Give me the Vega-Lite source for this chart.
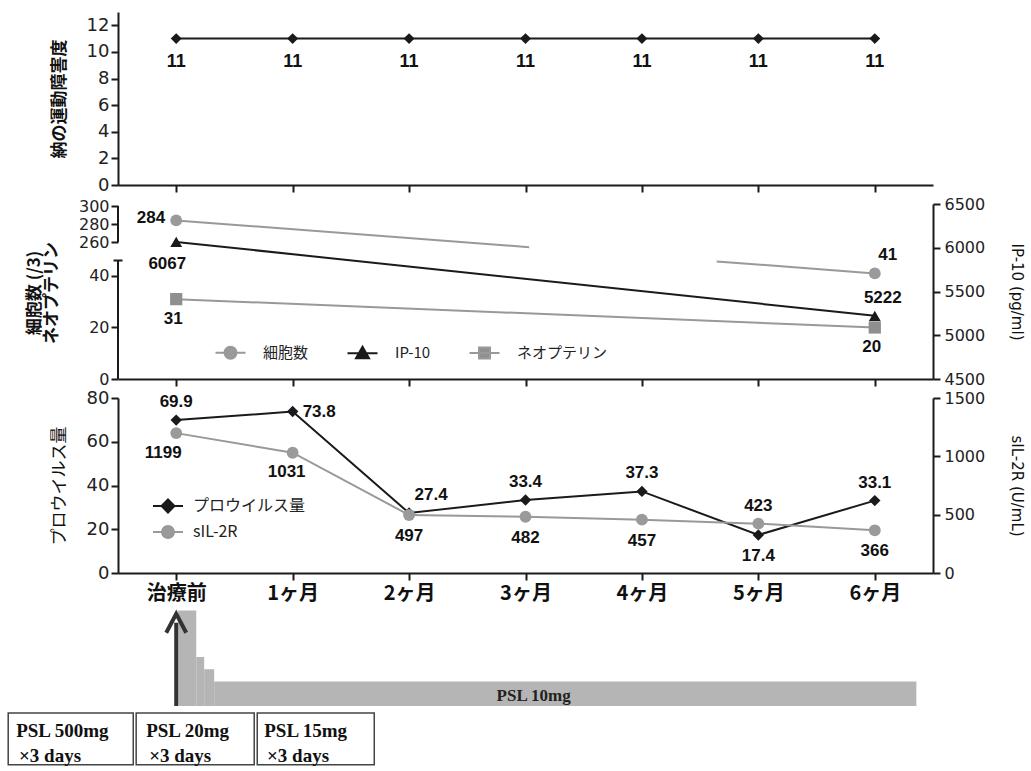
{
  "$schema": "https://vega.github.io/schema/vega-lite/v6.json",
  "background": "white",
  "padding": {"left": 7, "top": 12, "right": 2, "bottom": 0},
  "spacing": 2,
  "resolve": {"scale": {"fill": "independent", "stroke": "independent", "shape": "independent"}, "legend": {"fill": "independent", "stroke": "independent", "shape": "independent"}},
  "datasets": {
    "motor": [{"m":0,"v":11},{"m":1,"v":11},{"m":2,"v":11},{"m":3,"v":11},{"m":4,"v":11},{"m":5,"v":11},{"m":6,"v":11}],
    "cells": [{"m":0,"v":284},{"m":6,"v":41}],
    "ip10": [{"m":0,"v":6067},{"m":6,"v":5222}],
    "neo": [{"m":0,"v":31},{"m":6,"v":20}],
    "prov": [{"m":0,"v":69.9},{"m":1,"v":73.8},{"m":2,"v":27.4},{"m":3,"v":33.4},{"m":4,"v":37.3},{"m":5,"v":17.4},{"m":6,"v":33.1}],
    "sil": [{"m":0,"v":1199},{"m":1,"v":1031},{"m":2,"v":497},{"m":3,"v":482},{"m":4,"v":457},{"m":5,"v":423},{"m":6,"v":366}],
    "axisseg": [{"m":-0.5,"v":0,"hi":46},{"m":-0.5,"v":260,"hi":300}],
    "axiscap": [{"m":-0.5,"v":46}],
    "leg": [{"s":"none"}],
    "dose": [{"m":0.017,"m2":0.172,"v":39},{"m":0.172,"m2":0.24,"v":20},{"m":0.24,"m2":0.326,"v":15},{"m":0.326,"m2":6.357,"v":10}],
    "arrow": [{"m":0,"v":0,"hi":34}],
    "arrowhead": [{"m":0,"v":34}],
    "psl10": [{"m":3.07,"v":4.1,"t":"PSL 10mg"}],
    "boxes": [{"m":-1.443,"m2":-0.369,"v":-2.9,"v2":-24},{"m":-0.344,"m2":0.67,"v":-2.9,"v2":-24},{"m":0.696,"m2":1.701,"v":-2.9,"v2":-24}],
    "boxtext": [{"m":-1.375,"v":-10.2,"t":"PSL 500mg"},{"m":-1.35,"v":-20.4,"t":"×3 days"},{"m":-0.258,"v":-10.2,"t":"PSL 20mg"},{"m":-0.232,"v":-20.4,"t":"×3 days"},{"m":0.756,"v":-10.2,"t":"PSL 15mg"},{"m":0.78,"v":-20.4,"t":"×3 days"}]
  },
  "vconcat": [
    {
      "width": 815,
      "height": 173,
      "data": {"name": "motor"},
      "encoding": {
        "x": {"field":"m","type":"quantitative","title":null,"scale":{"domain":[-0.5,6.5],"nice":false,"zero":false},"axis":{"values":[0,1,2,3,4,5,6],"labels":false}},
        "y": {"field":"v","type":"quantitative","scale":{"domain":[0,13],"nice":false},"axis":{"values":[0,2,4,6,8,10,12],"title":"納の運動障害度","titleFontWeight":"bold","titlePadding":18,"labelFontSize":18}}
      },
      "layer": [
        {"mark": {"type":"line","color":"#1a1a1a","strokeWidth":2}},
        {"mark": {"type":"point","shape":"diamond","filled":true,"color":"#1a1a1a","size":120,"opacity":1}},
        {"mark": {"type":"text","dy":23,"font":"Liberation Sans","fontSize":18,"fontWeight":"bold","color":"#111"},"encoding":{"text":{"field":"v","type":"nominal"}}}
      ]
    },
    {
      "width": 815,
      "height": 175,
      "encoding": {
        "x": {"field":"m","type":"quantitative","title":null,"scale":{"domain":[-0.5,6.5],"nice":false,"zero":false},"axis":{"values":[0,1,2,3,4,5,6],"labels":false}}
      },
      "layer": [
        {
          "encoding": {"y": {"field":"v","type":"quantitative","scale":{"domain":[0,46,260,300],"range":[175,56.5,38,2],"zero":false,"nice":false},"axis":{"values":[0,20,40,260,280,300],"domain":false,"title":["細胞数 (/3)","ネオプテリン"],"titleFontWeight":"bold","titlePadding":18,"titleLineHeight":17,"labelFontSize":16}}},
          "layer": [
            {"data":{"name":"axisseg"},"mark":{"type":"rule","color":"#1a1a1a","strokeWidth":2},"encoding":{"y2":{"field":"hi"}}},
            {"data":{"name":"axiscap"},"mark":{"type":"point","shape":"stroke","size":81,"stroke":"#1a1a1a","strokeWidth":2,"opacity":1}},
            {"data":{"name":"cells"},"mark":{"type":"line","color":"#999999","strokeWidth":2,"strokeDash":[354,188,400]}},
            {"data":{"name":"cells"},"mark":{"type":"point","shape":"circle","filled":true,"color":"#9a9a9a","size":140,"opacity":1}},
            {"data":{"name":"cells"},"transform":[{"filter":"datum.m == 0"}],"mark":{"type":"text","align":"right","dx":-11,"dy":-2,"font":"Liberation Sans","fontSize":17,"fontWeight":"bold","color":"#111"},"encoding":{"text":{"field":"v","type":"nominal"}}},
            {"data":{"name":"cells"},"transform":[{"filter":"datum.m == 6"}],"mark":{"type":"text","dx":13,"dy":-18,"font":"Liberation Sans","fontSize":17,"fontWeight":"bold","color":"#111"},"encoding":{"text":{"field":"v","type":"nominal"}}},
            {"data":{"name":"neo"},"mark":{"type":"line","color":"#999999","strokeWidth":2}},
            {"data":{"name":"neo"},"mark":{"type":"point","shape":"square","filled":true,"color":"#8f8f8f","size":150,"opacity":1}},
            {"data":{"name":"neo"},"mark":{"type":"text","dx":-3,"dy":20,"font":"Liberation Sans","fontSize":17,"fontWeight":"bold","color":"#111"},"encoding":{"text":{"field":"v","type":"nominal"}}}
          ]
        },
        {
          "data": {"name":"ip10"},
          "encoding": {"y": {"field":"v","type":"quantitative","scale":{"domain":[4500,6500],"nice":false,"zero":false},"axis":{"orient":"right","values":[4500,5000,5500,6000,6500],"format":"d","title":"IP-10 (pg/ml)","titleFont":"DejaVu Sans","titleFontSize":15,"titlePadding":24,"labelPadding":4}}},
          "layer": [
            {"mark":{"type":"line","color":"#1a1a1a","strokeWidth":2}},
            {"mark":{"type":"point","shape":"triangle-up","filled":true,"color":"#1a1a1a","size":140,"opacity":1}},
            {"transform":[{"filter":"datum.m == 0"}],"mark":{"type":"text","align":"right","dx":10,"dy":22,"font":"Liberation Sans","fontSize":17,"fontWeight":"bold","color":"#111"},"encoding":{"text":{"field":"v","type":"nominal"}}},
            {"transform":[{"filter":"datum.m == 6"}],"mark":{"type":"text","dx":8,"dy":-18,"font":"Liberation Sans","fontSize":17,"fontWeight":"bold","color":"#111"},"encoding":{"text":{"field":"v","type":"nominal"}}}
          ]
        },
        {
          "data": {"name":"leg"},
          "transform": [{"filter":"false"}],
          "mark": {"type":"point","filled":true,"opacity":1,"strokeWidth":2},
          "encoding": {
            "fill": {"field":"s","type":"nominal","scale":{"domain":["細胞数","IP-10","ネオプテリン"],"range":["#9a9a9a","#1a1a1a","#8f8f8f"]},"legend":{"orient":"none","legendX":105,"legendY":141,"direction":"horizontal","title":null,"symbolSize":100,"labelOffset":25,"columnPadding":34,"labelFont":"Noto Sans CJK JP","labelFontSize":15,"labelColor":"#222","symbolStrokeWidth":2}},
            "stroke": {"field":"s","type":"nominal","scale":{"domain":["細胞数","IP-10","ネオプテリン"],"range":["#999999","#1a1a1a","#999999"]},"legend":{"orient":"none","legendX":105,"legendY":141,"direction":"horizontal","title":null,"symbolSize":100,"labelOffset":25,"columnPadding":34,"labelFont":"Noto Sans CJK JP","labelFontSize":15,"labelColor":"#222","symbolStrokeWidth":2}},
            "shape": {"field":"s","type":"nominal","scale":{"domain":["細胞数","IP-10","ネオプテリン"],"range":["M-3,0H-1.2M1.2,0H3M-1.2,0A1.2,1.2,0,1,1,1.2,0A1.2,1.2,0,1,1,-1.2,0Z","M-3,0H3M0,-1.3L1.3,1L-1.3,1Z","M-3,0H3M-1.1,-1.1H1.1V1.1H-1.1Z"]},"legend":{"orient":"none","legendX":105,"legendY":141,"direction":"horizontal","title":null,"symbolSize":100,"labelOffset":25,"columnPadding":34,"labelFont":"Noto Sans CJK JP","labelFontSize":15,"labelColor":"#222","symbolStrokeWidth":2}}
          }
        }
      ],
      "resolve": {"scale": {"y": "independent"}}
    },
    {
      "width": 815,
      "height": 175,
      "encoding": {
        "x": {"field":"m","type":"quantitative","title":null,"scale":{"domain":[-0.5,6.5],"nice":false,"zero":false},"axis":{"values":[0,1,2,3,4,5,6],"labelExpr":"['治療前','1ヶ月','2ヶ月','3ヶ月','4ヶ月','5ヶ月','6ヶ月'][datum.value]","labelFont":"Noto Sans CJK JP","labelFontSize":20,"labelFontWeight":"bold","labelColor":"#111","labelPadding":3}}
      },
      "layer": [
        {
          "data": {"name":"prov"},
          "encoding": {"y": {"field":"v","type":"quantitative","scale":{"domain":[0,80],"nice":false},"axis":{"values":[0,20,40,60,80],"title":"プロウイルス量","titlePadding":18,"labelFontSize":18}}},
          "layer": [
            {"mark":{"type":"line","color":"#1a1a1a","strokeWidth":2}},
            {"mark":{"type":"point","shape":"diamond","filled":true,"color":"#1a1a1a","size":130,"opacity":1}},
            {"transform":[{"filter":"datum.m == 0 || datum.m == 3 || datum.m == 4 || datum.m == 6"}],"mark":{"type":"text","dy":-18,"font":"Liberation Sans","fontSize":17,"fontWeight":"bold","color":"#111"},"encoding":{"text":{"field":"v","type":"nominal"}}},
            {"transform":[{"filter":"datum.m == 1"}],"mark":{"type":"text","align":"left","dx":10,"font":"Liberation Sans","fontSize":17,"fontWeight":"bold","color":"#111"},"encoding":{"text":{"field":"v","type":"nominal"}}},
            {"transform":[{"filter":"datum.m == 2"}],"mark":{"type":"text","dx":22,"dy":-18,"font":"Liberation Sans","fontSize":17,"fontWeight":"bold","color":"#111"},"encoding":{"text":{"field":"v","type":"nominal"}}},
            {"transform":[{"filter":"datum.m == 5"}],"mark":{"type":"text","dy":21,"font":"Liberation Sans","fontSize":17,"fontWeight":"bold","color":"#111"},"encoding":{"text":{"field":"v","type":"nominal"}}}
          ]
        },
        {
          "data": {"name":"sil"},
          "encoding": {"y": {"field":"v","type":"quantitative","scale":{"domain":[0,1500],"nice":false},"axis":{"orient":"right","values":[0,500,1000,1500],"format":"d","title":"sIL-2R (U/mL)","titleFont":"DejaVu Sans","titleFontSize":15,"titlePadding":24,"labelPadding":4}}},
          "layer": [
            {"mark":{"type":"line","color":"#999999","strokeWidth":2}},
            {"mark":{"type":"point","shape":"circle","filled":true,"color":"#9a9a9a","size":140,"opacity":1}},
            {"transform":[{"filter":"datum.m == 0"}],"mark":{"type":"text","dx":-13,"dy":20,"font":"Liberation Sans","fontSize":17,"fontWeight":"bold","color":"#111"},"encoding":{"text":{"field":"v","type":"nominal"}}},
            {"transform":[{"filter":"datum.m == 1"}],"mark":{"type":"text","dx":-6,"dy":19,"font":"Liberation Sans","fontSize":17,"fontWeight":"bold","color":"#111"},"encoding":{"text":{"field":"v","type":"nominal"}}},
            {"transform":[{"filter":"datum.m >= 2 && datum.m != 5"}],"mark":{"type":"text","dy":21,"font":"Liberation Sans","fontSize":17,"fontWeight":"bold","color":"#111"},"encoding":{"text":{"field":"v","type":"nominal"}}},
            {"transform":[{"filter":"datum.m == 5"}],"mark":{"type":"text","dy":-18,"font":"Liberation Sans","fontSize":17,"fontWeight":"bold","color":"#111"},"encoding":{"text":{"field":"v","type":"nominal"}}}
          ]
        },
        {
          "encoding": {"y": {"field":"v","type":"quantitative","axis":null,"title":null,"scale":{"domain":[0,40],"range":[308,210],"nice":false,"zero":false}}},
          "layer": [
            {"data":{"name":"dose"},"mark":{"type":"rect","color":"#b5b5b5"},"encoding":{"x2":{"field":"m2"},"y2":{"datum":0}}},
            {"data":{"name":"arrow"},"mark":{"type":"rule","color":"#333333","strokeWidth":4},"encoding":{"y2":{"field":"hi"}}},
            {"data":{"name":"arrowhead"},"mark":{"type":"point","shape":"M-1,1L0,-0.9L1,1","filled":false,"stroke":"#333333","strokeWidth":4,"size":400,"opacity":1}},
            {"data":{"name":"psl10"},"mark":{"type":"text","font":"Liberation Serif","fontWeight":"bold","fontSize":17,"color":"#222"},"encoding":{"text":{"field":"t"}}},
            {"data":{"name":"boxes"},"mark":{"type":"rect","fill":"white","stroke":"#444444","strokeWidth":1.5},"encoding":{"x2":{"field":"m2"},"y2":{"field":"v2"}}},
            {"data":{"name":"boxtext"},"mark":{"type":"text","align":"left","font":"Liberation Serif","fontWeight":"bold","fontSize":19,"color":"#111"},"encoding":{"text":{"field":"t"}}}
          ]
        },
        {
          "data": {"name":"leg"},
          "transform": [{"filter":"false"}],
          "mark": {"type":"point","filled":true,"opacity":1,"strokeWidth":2},
          "encoding": {
            "fill": {"field":"s","type":"nominal","scale":{"domain":["プロウイルス量","sIL-2R"],"range":["#1a1a1a","#9a9a9a"]},"legend":{"orient":"none","legendX":42,"legendY":100,"direction":"vertical","title":null,"symbolSize":100,"labelOffset":17,"rowPadding":5,"labelFont":"Noto Sans CJK JP","labelFontSize":16,"labelColor":"#222","symbolStrokeWidth":2}},
            "stroke": {"field":"s","type":"nominal","scale":{"domain":["プロウイルス量","sIL-2R"],"range":["#1a1a1a","#999999"]},"legend":{"orient":"none","legendX":42,"legendY":100,"direction":"vertical","title":null,"symbolSize":100,"labelOffset":17,"rowPadding":5,"labelFont":"Noto Sans CJK JP","labelFontSize":16,"labelColor":"#222","symbolStrokeWidth":2}},
            "shape": {"field":"s","type":"nominal","scale":{"domain":["プロウイルス量","sIL-2R"],"range":["M-3,0H3M0,-1.3L1.3,0L0,1.3L-1.3,0Z","M-3,0H-1.2M1.2,0H3M-1.2,0A1.2,1.2,0,1,1,1.2,0A1.2,1.2,0,1,1,-1.2,0Z"]},"legend":{"orient":"none","legendX":42,"legendY":100,"direction":"vertical","title":null,"symbolSize":100,"labelOffset":17,"rowPadding":5,"labelFont":"Noto Sans CJK JP","labelFontSize":16,"labelColor":"#222","symbolStrokeWidth":2}}
          }
        }
      ],
      "resolve": {"scale": {"y": "independent"}}
    }
  ],
  "config": {
    "view": {"stroke": null},
    "axis": {"grid": false, "domainColor": "#1a1a1a", "domainWidth": 2, "tickColor": "#1a1a1a", "tickWidth": 2, "tickSize": 7, "labelFont": "DejaVu Sans", "labelFontSize": 16, "labelColor": "#222", "labelPadding": 2, "titleFont": "Noto Sans CJK JP", "titleFontSize": 17, "titleColor": "#111", "titleFontWeight": "normal"}
  }
}
